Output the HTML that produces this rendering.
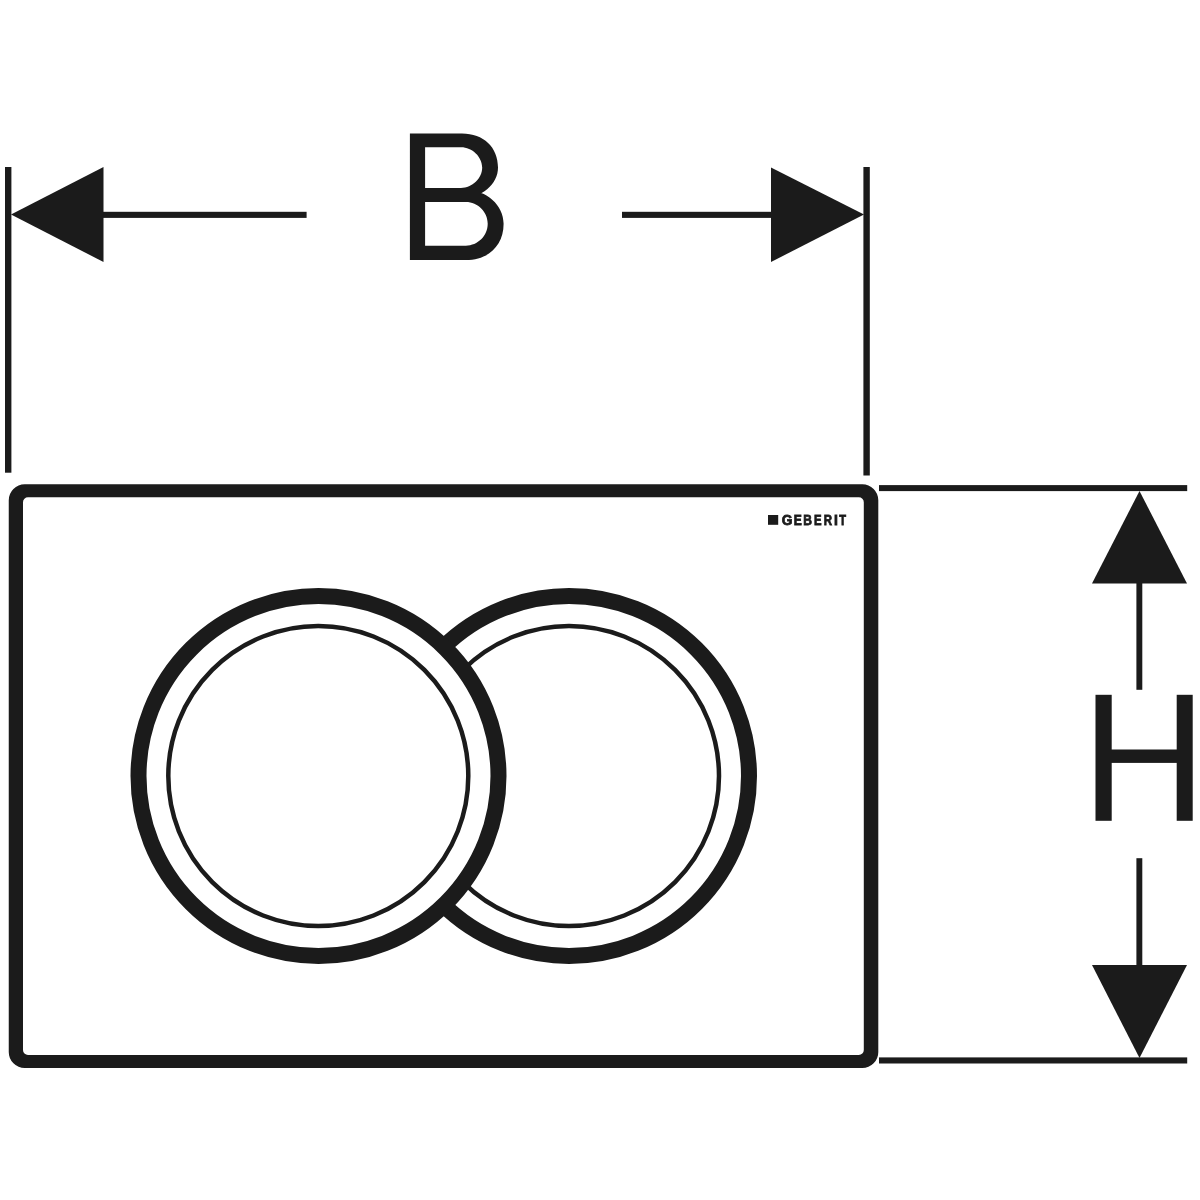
<!DOCTYPE html>
<html>
<head>
<meta charset="utf-8">
<style>
html,body{margin:0;padding:0;background:#fff;}
body{width:1200px;height:1200px;overflow:hidden;}
svg{display:block;}
.gl{will-change:transform;}
</style>
</head>
<body>
<svg width="1200" height="1200" viewBox="0 0 1200 1200">
  <rect x="0" y="0" width="1200" height="1200" fill="#fff"/>
  <g fill="#1b1b1b" stroke="none">
    <!-- B dimension -->
    <rect x="5" y="167" width="6.4" height="305.7"/>
    <rect x="863.4" y="167" width="6.4" height="308.5"/>
    <rect x="103" y="211.8" width="203.6" height="6.1"/>
    <rect x="622" y="211.8" width="149.5" height="6.1"/>
    <polygon points="11,214.5 103.5,167 103.5,262"/>
    <polygon points="864,214.5 771,167.5 771,262"/>
    <!-- H dimension -->
    <rect x="879" y="485.1" width="308.2" height="6"/>
    <rect x="879" y="1057.4" width="308.2" height="6.1"/>
    <polygon points="1139.5,491 1187,583.5 1092,583.5"/>
    <polygon points="1139.5,1058 1187,965 1092,965"/>
    <rect x="1136.4" y="583" width="5.9" height="106.8"/>
    <rect x="1136.4" y="858.2" width="5.9" height="107"/>
    <!-- H letter -->
    <rect x="1095.5" y="694.8" width="16.2" height="126"/>
    <rect x="1176.7" y="694.8" width="16" height="126"/>
    <rect x="1111" y="749.5" width="66" height="13.4"/>
    <!-- plate -->
    <path fill-rule="evenodd" d="M24.75,484.2 H862.3 A16,16 0 0 1 878.3,500.2 V1052 A16,16 0 0 1 862.3,1068 H24.75 A16,16 0 0 1 8.75,1052 V500.2 A16,16 0 0 1 24.75,484.2 Z
      M28,497.2 H858.8 A5,5 0 0 1 863.8,502.2 V1050 A5,5 0 0 1 858.8,1055 H28 A5,5 0 0 1 23,1050 V502.2 A5,5 0 0 1 28,497.2 Z"/>
    <!-- logo -->
    <rect x="768" y="515" width="10.2" height="9.8"/>
  </g>
  <g class="gl" font-family="Liberation Sans" font-weight="bold" font-size="14.3" fill="#1b1b1b" stroke="#1b1b1b" stroke-width="0.8"><text transform="translate(781.81,524.6) scale(0.958,1)" x="0" y="0">G</text><text transform="translate(793.63,524.6) scale(0.843,1)" x="0" y="0">E</text><text transform="translate(803.13,524.6) scale(0.842,1)" x="0" y="0">B</text><text transform="translate(813.97,524.6) scale(0.793,1)" x="0" y="0">E</text><text transform="translate(823.66,524.6) scale(0.803,1)" x="0" y="0">R</text><text transform="translate(833.90,524.6) scale(0.979,1)" x="0" y="0">I</text><text transform="translate(839.24,524.6) scale(0.776,1)" x="0" y="0">T</text></g>
  <path id="B" fill="#1b1b1b" d="M409.90,133.40 H462.00 C483.60,133.40 498.00,147.08 498.00,167.60 C498.00,184.39 481.88,198.00 462.00,198.00 H409.90 Z M409.90,190.00 H465.85 C486.70,190.00 503.60,205.15 503.60,223.85 C503.60,245.60 488.50,260.10 465.85,260.10 H409.90 Z M425.10,147.20 V188.00 H461.00 C472.24,188.00 482.20,178.41 482.20,167.60 C482.20,156.79 472.24,147.20 461.00,147.20 Z M425.10,202.00 V245.70 H465.85 C477.87,245.70 487.70,235.87 487.70,223.85 C487.70,211.83 477.87,202.00 465.85,202.00 Z"/>
  <!-- circles -->
  <g stroke="#1b1b1b" fill="#fff">
    <circle cx="569" cy="776" r="180" stroke-width="16"/>
    <circle cx="569" cy="776" r="150" stroke-width="4.5" fill="none"/>
    <circle cx="318.5" cy="776" r="180" stroke-width="16"/>
    <circle cx="318.3" cy="776" r="150" stroke-width="4.5" fill="none"/>
  </g>
</svg>
</body>
</html>
